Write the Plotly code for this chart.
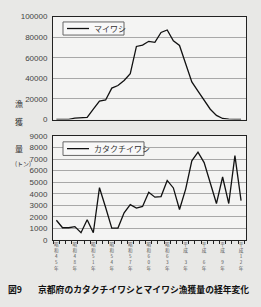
import plotly.graph_objects as go

years = list(range(1970, 2001))
maiwashi = [0, 0, 200, 1300, 1500, 2000, 10000, 18000, 19000, 30500, 33000, 38000,
            44600, 71000, 72300, 76000, 75000, 84600, 87000, 76500, 72000, 54000,
            36500, 27500, 19000, 10000, 4000, 1000, 300, 100, 0]
katakuchi = [1700, 1050, 1050, 1150, 620, 1750, 620, 4520, 2800, 1020, 1020, 2350,
             3050, 2750, 2900, 4120, 3700, 3750, 5150, 4500, 2630, 4400, 6850, 7600,
             6700, 5000, 3150, 5450, 3150, 7300, 3400]
label_years = [1970, 1973, 1976, 1979, 1982, 1985, 1988, 1991, 1994, 1997, 2000]
label_texts = ["昭和45年", "昭和48年", "昭和51年", "昭和54年", "昭和57年", "昭和60年",
               "昭和63年", "平成 3年", "平成 6年", "平成 9年", "平成12年"]
series_names = ["マイワシ", "カタクチイワシ"]

W, H = 261, 307
def px(x): return x / W
def py(y): return 1 - y / H

fig = go.Figure()
fig.add_trace(go.Scatter(x=years, y=maiwashi, mode="lines", name=series_names[0],
                         line=dict(color="#111", width=1.3), xaxis="x", yaxis="y"))
fig.add_trace(go.Scatter(x=years, y=katakuchi, mode="lines", name=series_names[1],
                         line=dict(color="#111", width=1.3), xaxis="x2", yaxis="y2"))

xr = [1969.45, 2000.8]
tickfont = dict(family="Liberation Sans, Arial", size=8, color="#444")
vert = ["<br>".join(list(t)) for t in label_texts]

fig.update_layout(
    width=W, height=H, margin=dict(l=0, r=0, t=0, b=0),
    paper_bgcolor="#e8e8e6", plot_bgcolor="#f4f4f3", showlegend=False,
    xaxis=dict(domain=[px(53), px(246)], range=xr, showticklabels=False, showgrid=False,
               showline=True, mirror=True, linecolor="#222", linewidth=1, zeroline=False,
               anchor="y"),
    yaxis=dict(domain=[py(119), py(13)], range=[0, 100000], dtick=20000, tickformat="d",
               showgrid=True, gridcolor="#a8a8a8", gridwidth=1, showline=True, mirror=True,
               linecolor="#222", linewidth=1, zeroline=False, tickfont=tickfont, anchor="x",
               ticks="", ticklabelstandoff=3),
    xaxis2=dict(domain=[px(53), px(246)], range=xr, showgrid=False,
                showline=True, mirror=True, linecolor="#222", linewidth=1, zeroline=False,
                anchor="y2", tickmode="array", tickvals=label_years, ticktext=vert,
                ticks="", tickfont=dict(family="Noto Sans CJK JP", size=4.6, color="#555"),
                tickangle=0, ticklabelstandoff=0,
                minor=dict(ticks="outside", ticklen=3, tickcolor="#222", tick0=1969.5, dtick=1)),
    yaxis2=dict(domain=[py(243), py(136)], range=[0, 9000], dtick=1000, tickformat="d",
                showgrid=True, gridcolor="#a8a8a8", gridwidth=1, showline=True, mirror=True,
                linecolor="#222", linewidth=1, zeroline=False, tickfont=tickfont, anchor="x2",
                ticks="", ticklabelstandoff=3),
)

# hand-drawn legend boxes (one per panel)
leg_font = dict(family="Noto Sans CJK JP", size=8, color="#333")
for name, (x0, y0, x1, y1) in zip(series_names, [(63, 18.5, 124, 32), (63, 142, 144, 156)]):
    fig.add_shape(type="rect", xref="paper", yref="paper", x0=px(x0), x1=px(x1),
                  y0=py(y1), y1=py(y0), line=dict(color="#666", width=1), fillcolor="#f8f8f8")
    ym = (y0 + y1) / 2
    fig.add_shape(type="line", xref="paper", yref="paper", x0=px(67), x1=px(89),
                  y0=py(ym), y1=py(ym), line=dict(color="#111", width=1.3))
    fig.add_annotation(x=px(91.5), y=py(ym), xref="paper", yref="paper", text=name,
                       showarrow=False, xanchor="left", yanchor="middle", font=leg_font)

for txt, y, sz in [("漁", 95, 8), ("獲", 121, 8), ("量", 149, 8), ("(トン)", 164, 6)]:
    fig.add_annotation(x=px(12.5), y=py(y), xref="paper", yref="paper", text=txt,
                       showarrow=False, font=dict(family="Noto Sans CJK JP", size=sz, color="#333"))

cap_font = dict(family="Noto Sans CJK JP", size=8.8, color="#111")
fig.add_annotation(x=px(6), y=py(294), xref="paper", yref="paper", text="<b>図9</b>",
                   showarrow=False, xanchor="left", yanchor="middle", font=cap_font)
fig.add_annotation(x=px(36), y=py(294), xref="paper", yref="paper",
                   text="<b>京都府のカタクチイワシとマイワシ漁獲量の経年変化</b>",
                   showarrow=False, xanchor="left", yanchor="middle", font=cap_font)

fig.write_html("out.html")
